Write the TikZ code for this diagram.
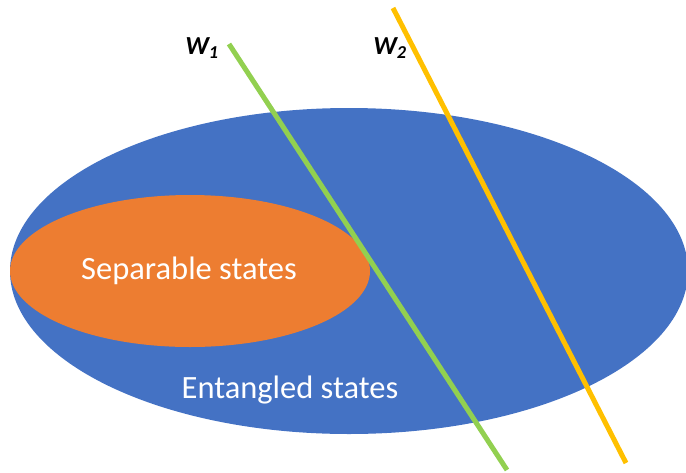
\documentclass[tikz,border=0pt]{standalone}
\usepackage{fontspec}
\setmainfont{Carlito}
\definecolor{blueE}{RGB}{68,114,196}
\definecolor{orangeS}{RGB}{237,125,49}
\definecolor{greenW}{RGB}{146,208,80}
\definecolor{yellowW}{RGB}{255,192,0}
\tikzset{
  wline/.style={line width=5pt},
  lbl/.style={text=white,font=\fontsize{32.5}{36}\selectfont,inner sep=0pt},
  wlbl/.style={font=\fontsize{26}{28}\selectfont\bfseries\itshape,inner sep=0pt}
}
\begin{document}
\begin{tikzpicture}[x=1pt,y=-1pt]
\useasboundingbox (0,0) rectangle (686,472);
\fill[blueE] (349,271) ellipse [x radius=339,y radius=163];
\fill[orangeS] (190,271) ellipse [x radius=180,y radius=76];
\node[lbl] (sep) at (189,271) {Separable states};
\node[lbl] (ent) at (290,390) {Entangled states};
\coordinate (g1) at (229,44);
\coordinate (g2) at (507,470);
\coordinate (y1) at (393,8);
\coordinate (y2) at (626,463);
\draw[wline,greenW] (g1) -- (g2);
\draw[wline,yellowW] (y1) -- (y2);
\node[wlbl] (w1) at (202,48) {W\textsubscript{1}};
\node[wlbl] (w2) at (390,48) {W\textsubscript{2}};
\end{tikzpicture}
\end{document}
